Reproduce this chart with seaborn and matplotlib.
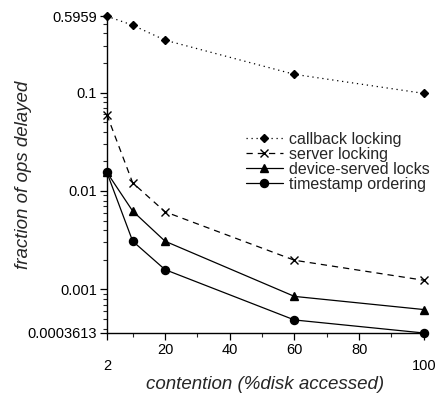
import numpy as np
import pandas as pd
import matplotlib
matplotlib.use("Agg")
import matplotlib.pyplot as plt
import matplotlib.ticker as mticker
import seaborn as sns

sns.set_style("ticks")
plt.rcParams["font.family"] = ["Liberation Sans", "DejaVu Sans"]

# data
contention = [2, 10, 20, 60, 100]
callback_locking = [0.5959, 0.483, 0.34, 0.153, 0.098]
server_locking = [0.0597, 0.0121, 0.00615, 0.00198, 0.00124]
device_served = [0.0155, 0.00625, 0.00309, 0.00085, 0.000625]
timestamp_ordering = [0.0155, 0.00309, 0.00159, 0.00049, 0.0003613]

series_names = ["callback locking", "server locking",
                "device-served locks", "timestamp ordering"]
x_ticks = [2, 20, 40, 60, 80, 100]
x_ticklabels = ["\n2", "20", "40", "60", "80", "\n100"]
y_ticks = [0.0003613, 0.001, 0.01, 0.1, 0.5959]
y_ticklabels = ["0.0003613", "0.001", "0.01", "0.1", "0.5959"]

df = pd.DataFrame({
    "contention": contention * 4,
    "frac": callback_locking + server_locking + device_served + timestamp_ordering,
    "series": np.repeat(series_names, len(contention)),
})

markers = {"callback locking": "D", "server locking": "x",
           "device-served locks": "^", "timestamp ordering": "o"}
dashes = {"callback locking": (1, 3), "server locking": (5, 4),
          "device-served locks": "", "timestamp ordering": ""}
sizes = {"callback locking": 4.2, "server locking": 5.5,
         "device-served locks": 5.8, "timestamp ordering": 5.8}

fig = plt.figure(figsize=(4.36, 3.95), dpi=100)
ax = fig.add_axes([0.245, 0.157, 0.727, 0.802])

for name in series_names:
    sub = df[df["series"] == name]
    sns.lineplot(data=sub, x="contention", y="frac", ax=ax, color="black",
                 marker=markers[name], markersize=sizes[name],
                 markeredgecolor="black", markerfacecolor="black",
                 markeredgewidth=1.0, linewidth=0.9, label=name, clip_on=False)
    if dashes[name]:
        ax.lines[-1].set_dashes(dashes[name])

ax.set_yscale("log")
ax.set_xlim(2, 100)
ax.set_ylim(0.0003613, 0.5959)

ax.set_xticks(x_ticks)
ax.set_xticklabels(x_ticklabels)
ax.xaxis.set_minor_locator(mticker.FixedLocator([10, 30, 50, 70, 90]))
ax.set_yticks(y_ticks)
ax.set_yticklabels(y_ticklabels)
ax.yaxis.set_minor_locator(mticker.LogLocator(base=10, subs=np.arange(2, 10), numticks=20))
ax.yaxis.set_minor_formatter(mticker.NullFormatter())

ax.tick_params(axis="both", which="major", labelsize=10.5, length=5, width=0.9,
               direction="out", color="black", labelcolor="black", pad=2)
ax.tick_params(axis="both", which="minor", length=3, width=0.8, direction="out")

sns.despine(ax=ax)
for side in ["left", "bottom"]:
    ax.spines[side].set_color("black")
    ax.spines[side].set_linewidth(1.0)

ax.set_xlabel("contention (%disk accessed)", fontsize=13.5, style="italic", labelpad=2)
ax.set_ylabel("fraction of ops delayed", fontsize=13.5, style="italic")
ax.yaxis.set_label_coords(-0.237, 0.5)
ax.grid(False)

leg = ax.legend(loc="upper left", bbox_to_anchor=(0.414, 0.66), frameon=False,
                fontsize=11.5, handlelength=2.3, handletextpad=0.4,
                labelspacing=0.0, borderpad=0)

fig.savefig("out.png", dpi=100)
